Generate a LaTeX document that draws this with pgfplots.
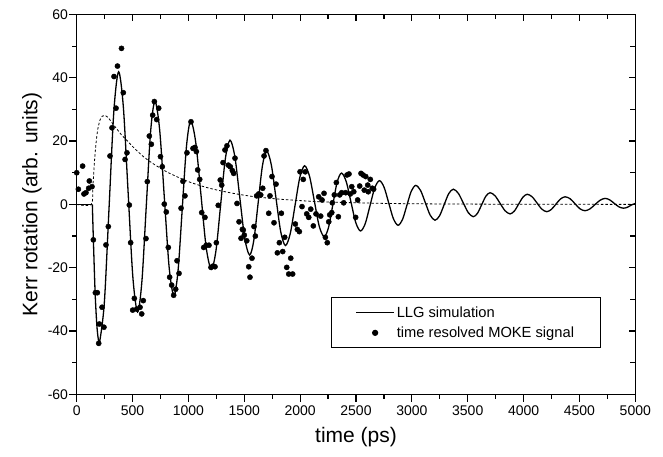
\documentclass[border=0pt]{standalone}
\usepackage{pgfplots}
\pgfplotsset{compat=1.18}
\usepackage{fontspec}
\setmainfont{Liberation Sans}
\pgfplotsset{
  llgleg/.style={legend image code/.code={\draw[##1] (0pt,0pt) -- (38pt,0pt);}},
  mokeleg/.style={legend image code/.code={\path[draw=none] (0pt,0pt) -- (38pt,0pt); \draw[##1] plot coordinates {(19pt,0pt)};}},
}
\begin{document}
\begin{tikzpicture}
\useasboundingbox (-76.7pt,-62.7pt) rectangle (586.3pt,394.3pt);
\begin{axis}[
  name=main,
  scale only axis, width=558.6pt, height=379.8pt,
  xmin=0, xmax=5000, ymin=-60, ymax=60,
  xtick={0,500,...,5000}, ytick={-60,-40,...,60},
  minor x tick num=1, minor y tick num=1,
  tick pos=left, tick align=outside,
  major tick length=7.5pt, minor tick length=4.5pt,
  axis line style={line width=1.3pt},
  every tick/.style={black, line width=1.2pt},
  tick label style={font=\fontsize{14}{16}\selectfont},
  yticklabel style={inner xsep=1pt},
  /pgf/number format/assume math mode=true,
  /pgf/number format/1000 sep={},
  xlabel={time (ps)}, ylabel={Kerr rotation (arb. units)},
  label style={font=\fontsize{21}{24}\selectfont},
  xlabel style={at={(axis description cs:0.5,-0.1124)}, anchor=center},
  ylabel style={at={(axis description cs:-0.08,0.5)}, anchor=center},
  clip mode=individual,
  legend cell align=left,
  legend style={at={(axis cs:2276,-29.3)}, anchor=north west, draw=black, line width=1pt,
    font=\fontsize{14.7}{17}\selectfont, inner xsep=24pt, inner ysep=7pt, row sep=4pt},
]
\addplot[black, line width=1.3pt, forget plot] coordinates {(0,0)(140,0)};
\addplot[black, line width=1.3pt, smooth, tension=0.5, llgleg] coordinates {
(140,0)(150,-12)(165,-28)(180,-38)(193,-42.5)(205,-43.5)(247.5,-31.0)(290,-0.8)(332.5,29.4)
(375,41.9)(417.5,30.8)(460,3.95)(502.5,-22.9)(545,-34)(583.75,-24.25)(622.5,-0.7)(661.25,22.85)
(700,32.6)(742.5,23.6)(785,1.85)(827.5,-19.9)(870,-28.9)(907.5,-20.8)(945,-1.25)(982.5,18.3)
(1020,26.4)(1066,19.5)(1112.5,2.95)(1159,-13.6)(1205,-20.5)(1247,-14.5)(1288.5,-0.1)(1330,14.3)
(1372,20.3)(1416,15.0)(1460,2.15)(1504,-10.7)(1548,-16)(1586,-11.2)(1624,0.45)(1662,12.1)
(1700,16.9)(1742,12.5)(1784,1.95)(1826,-8.6)(1868,-13)(1911,-9.3)(1954,-0.4)(1997,8.5)
(2040,12.2)(2084,8.9)(2127.5,1.0)(2171,-6.9)(2215,-10.2)(2254,-7.3)(2292.5,-0.15)(2331,7.0)
(2370,9.9)(2412.5,7.2)(2455,0.75)(2497.5,-5.7)(2540,-8.4)(2582.5,-6.1)(2625,-0.45)(2667.5,5.2)
(2710,7.5)(2751.5,5.4)(2793,0.45)(2834.5,-4.5)(2876,-6.6)(2916,-4.8)(2955.5,-0.3)(2995,4.2)
(3035,6.0)(3078,4.4)(3121,0.5)(3164,-3.4)(3207,-5.0)(3248,-3.6)(3289,-0.1)(3330,3.4)
(3371,4.8)(3416,3.5)(3460.5,0.45)(3505,-2.6)(3550,-3.9)(3587.5,-2.8)(3625,-0.1)(3662.5,2.6)
(3700,3.7)(3745,2.7)(3789.5,0.35)(3834,-2.0)(3879,-3.0)(3917.5,-2.1)(3956,0.1)(3994.5,2.3)
(4033,3.2)(4076.5,2.4)(4120,0.45)(4163.5,-1.5)(4207,-2.3)(4248,-1.6)(4289,0.05)(4330,1.7)
(4371,2.4)(4416,1.8)(4460.5,0.2)(4505,-1.4)(4550,-2.0)(4595,-1.4)(4639.5,-0.05)(4684,1.3)
(4729,1.9)(4770,1.45)(4811,0.35)(4852,-0.75)(4893,-1.2)(4930,-0.9)(4965,-0.2)(5000,0.3)
};
\addlegendentry{LLG simulation}
\addplot[black, only marks, mark=*, mark size=2.6pt, mokeleg] coordinates {
(0,10.0)(15,4.8)(53,12.1)(65,3.3)(83,3.7)(107,5.1)(113,7.4)(137,5.6)(149,-11.2)(167,-27.9)
(185,-27.9)(197,-43.9)(203,-37.8)(227,-32.5)(244,-38.8)(262,-12.8)(283,-7.0)(298,15.3)(316,24.2)
(334,40.4)(352,30.4)(365,43.7)(401,49.3)(417,35.3)(433,14.2)(450,16.3)(471,-0.2)(483,-12.1)
(501,-33.4)(516,-29.7)(537,-33.1)(567,-32.5)(582,-34.6)(596,-30.4)(620,-10.8)(632,7.2)(650,21.6)
(668,19.0)(680,28.2)(695,32.5)(716,26.8)(734,30.4)(750,15.1)(766,11.9)(784,0.1)(802,-2.4)
(820,-13.6)(832,-23.0)(850,-25.5)(868,-28.7)(886,-26.8)(898,-17.8)(916,-21.8)(934,-1.2)(951,7.3)
(969,2.7)(987,16.3)(1023,26.1)(1041,17.7)(1059,18.0)(1071,16.7)(1083,10.9)(1101,7.9)(1119,-2.6)
(1137,-13.6)(1148,-4.1)(1160,-12.9)(1184,-12.9)(1202,-19.9)(1220,-19.5)(1238,-19.7)(1250,-12.1)
(1267,-0.3)(1285,7.7)(1298,6.1)(1310,13.2)(1327,17.2)(1345,18.5)(1357,12.4)(1375,11.9)(1393,10.7)
(1405,9.8)(1417,14.6)(1435,0.3)(1453,-5.5)(1471,-10.7)(1483,-7.9)(1500,-9.7)(1491,-8.1)
(1522,-11.5)(1540,-19.7)(1551,-23.0)(1569,-17.0)(1587,-7.0)(1599,-10.0)(1611,2.7)(1629,3.3)
(1647,3.0)(1665,5.1)(1677,15.3)(1694,17.0)(1719,-2.8)(1730,2.7)(1748,8.8)(1766,-5.8)(1784,6.4)
(1796,-15.3)(1814,-12.1)(1832,-2.8)(1844,-14.9)(1862,-10.4)(1880,-19.9)(1898,-22.0)(1916,-17.0)
(1933,-22.0)(1957,-6.2)(1975,-7.9)(1993,-8.6)(1999,10.3)(2017,-0.7)(2028,7.9)(2046,10.3)
(2059,-3.0)(2077,-4.1)(2095,-1.5)(2118,-6.8)(2142,-3.0)(2166,2.4)(2184,-3.7)(2196,1.4)(2214,3.5)
(2226,-10.4)(2243,-12.1)(2256,-5.5)(2265,-3.3)(2283,-2.6)(2288,0.5)(2306,3.0)(2324,6.9)
(2342,-3.9)(2354,3.0)(2372,3.7)(2390,0.5)(2408,3.7)(2420,9.3)(2437,9.6)(2449,3.3)(2462,5.6)
(2480,4.0)(2497,-4.1)(2515,1.4)(2533,5.8)(2545,9.8)(2563,9.3)(2574,4.5)(2587,8.8)(2605,6.1)
(2610,4.0)(2628,7.9)(2646,5.1)(2658,4.8)
};
\addlegendentry{time resolved MOKE signal}
\addplot[black, line width=0.8pt, dash pattern=on 2.5pt off 2pt, smooth, tension=0.5, forget plot] coordinates {
(0,0)(130,0)(145,6)(160,14)(175,20)(190,24)(210,26.8)(230,27.9)(255,28.1)(280,27.5)(320,25.6)
(360,23.8)(400,22)(450,20.2)(500,18.3)(550,16.6)(600,15.0)(650,13.7)(700,12.5)(800,10.4)
(900,8.7)(1000,7.2)(1100,6.0)(1200,5.0)(1300,4.2)(1400,3.5)(1500,2.9)(1600,2.4)(1800,1.7)
(2000,1.2)(2200,0.8)(2400,0.6)(2700,0.35)(3000,0.2)(3500,0.1)(4000,0.05)(5000,0)
};
\end{axis}
\begin{axis}[
  scale only axis, width=558.6pt, height=379.8pt,
  xmin=0, xmax=5000, ymin=-60, ymax=60,
  xtick={0,500,...,5000}, ytick={-60,-40,...,60},
  minor x tick num=1, minor y tick num=1,
  tick pos=right, tick align=inside,
  major tick length=6.5pt, minor tick length=5pt,
  axis line style={line width=1.3pt},
  every tick/.style={black, line width=1.2pt},
  xticklabels={}, yticklabels={},
]
\end{axis}
\end{tikzpicture}
\end{document}
